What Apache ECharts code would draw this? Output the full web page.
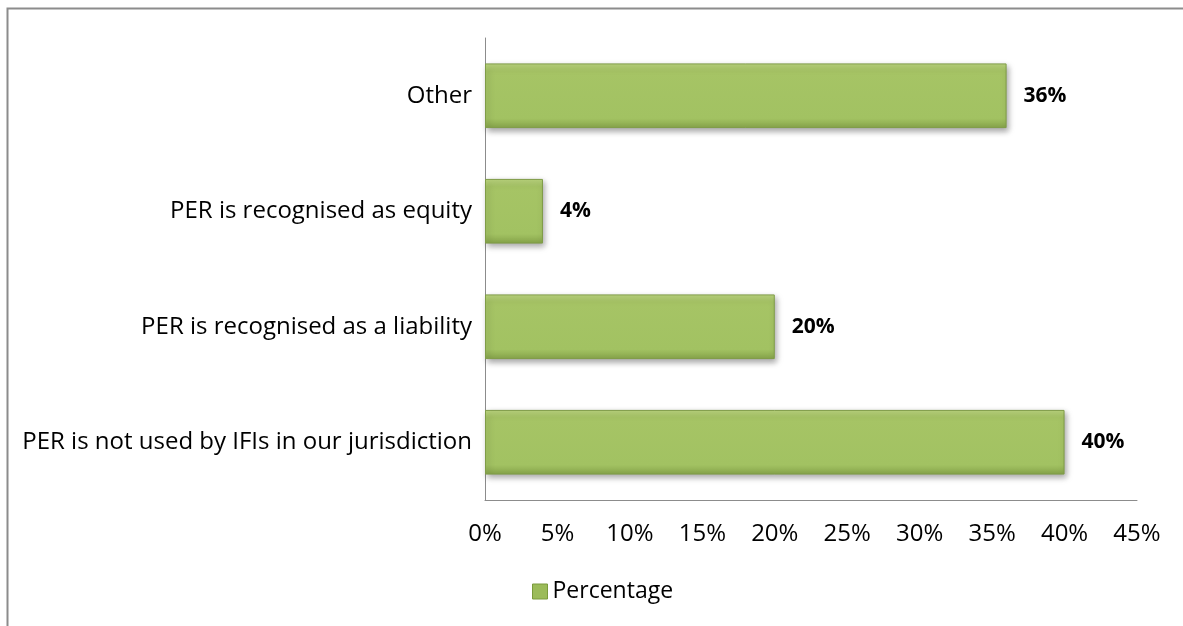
<!DOCTYPE html>
<html><head><meta charset="utf-8">
<script src="https://cdn.jsdelivr.net/npm/echarts@6/dist/echarts.min.js"></script>
<style>html,body{margin:0;padding:0;background:#fff}#c{width:1183px;height:626px}</style>
</head><body><div id="c"></div>
<script>
const categories = ["PER is not used by IFIs in our jurisdiction","PER is recognised as a liability","PER is recognised as equity","Other"];
const percentage = [40, 20, 4, 36];
const seriesName = "Percentage";
const xMax = 45, xStep = 5;
const FONT = "'Open Sans', 'Noto Sans', sans-serif";
const chart = echarts.init(document.getElementById('c'), null, {renderer:'canvas'});
const barColor = new echarts.graphic.LinearGradient(0,0,0,1,[
  {offset:0,color:'#bcd67f'},{offset:0.12,color:'#a6c465'},{offset:0.85,color:'#a2c262'},{offset:1,color:'#86a44a'}]);
chart.setOption({
  animation:false,
  textStyle:{fontFamily:FONT},
  graphic:[{type:'rect',shape:{x:7.5,y:8.5,width:1300,height:800},style:{fill:'none',stroke:'#8c8c8c',lineWidth:2},silent:true,z:-1}],
  grid:{left:485,right:46,top:38,bottom:126,containLabel:false},
  legend:{top:575,left:527,itemWidth:15,itemHeight:15,itemGap:6,
    textStyle:{fontSize:23,color:'#000',fontFamily:FONT},data:[{name:seriesName,icon:'rect',itemStyle:{color:'#9bbb59',borderColor:'#7a9a3c',borderWidth:1}}]},
  xAxis:{type:'value',min:0,max:xMax,interval:xStep,
    axisLine:{show:true,lineStyle:{color:'#8c8c8c',width:1}},
    axisTick:{show:false},splitLine:{show:false},
    axisLabel:{formatter:v=>v+'%',fontSize:24,color:'#000',margin:22,fontFamily:FONT}},
  yAxis:{type:'category',data:categories,
    axisLine:{show:true,lineStyle:{color:'#8c8c8c',width:1}},axisTick:{show:false},
    axisLabel:{fontSize:24,color:'#000',margin:13,fontFamily:FONT}},
  series:[{name:seriesName,type:'bar',data:percentage,barCategoryGap:'44%',
    itemStyle:{color:barColor,borderColor:'#7f9c47',borderWidth:1,shadowColor:'rgba(0,0,0,0.35)',shadowBlur:6,shadowOffsetX:2,shadowOffsetY:3},
    label:{show:true,position:'right',distance:17,formatter:p=>p.value+'%',fontSize:21,fontWeight:'bold',color:'#000',fontFamily:FONT}}]
});
</script></body></html>
